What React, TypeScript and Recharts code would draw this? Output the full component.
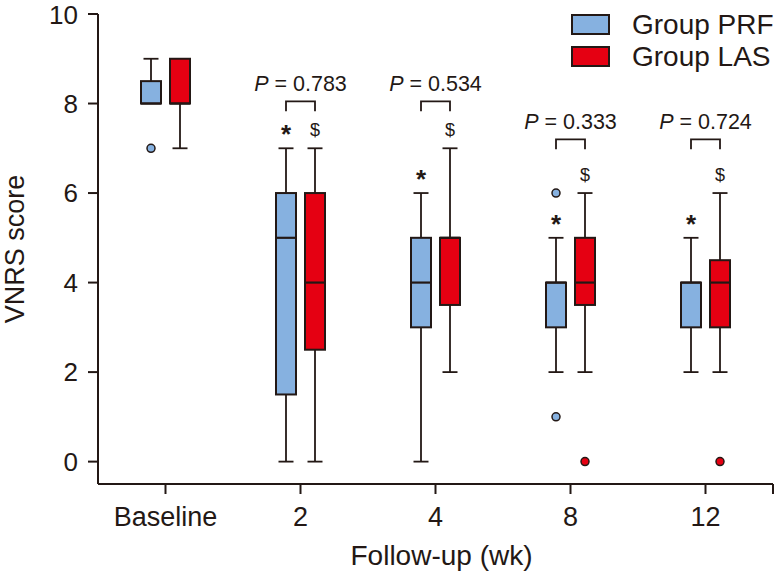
import React from 'react';
import { ComposedChart, Bar, XAxis, YAxis, Customized } from 'recharts';

// follow-up weeks
const categories = ['Baseline', '2', '4', '8', '12'];

// Group PRF box stats
const prfMin = [8, 0, 0, 2, 2];
const prfQ1 = [8, 1.5, 3, 3, 3];
const prfMed = [8, 5, 4, 4, 4];
const prfQ3 = [8.5, 6, 5, 4, 4];
const prfMax = [9, 7, 6, 5, 5];
const prfOut = [[7], [], [], [6, 1], []];
const prfMark = ['', '*', '*', '*', '*'];

// Group LAS box stats
const lasMin = [7, 0, 2, 2, 2];
const lasQ1 = [8, 2.5, 3.5, 3.5, 3];
const lasMed = [8, 4, 5, 4, 4];
const lasQ3 = [9, 6, 5, 5, 4.5];
const lasMax = [9, 7, 7, 6, 6];
const lasOut = [[], [], [], [0], [0]];
const lasMark = ['', '$', '$', '$', '$'];

// between-group comparison
const pValues = ['', '0.783', '0.534', '0.333', '0.724'];
const pLevel = [null, 8.05, 8.05, 7.2, 7.2];

const yTicks = [0, 2, 4, 6, 8, 10];
const seriesNames = ['Group PRF', 'Group LAS'];

const INK = '#231815';
const BLUE = '#86b1e0';
const RED = '#e50012';
const FONT = '"Liberation Sans", Arial, Helvetica, sans-serif';

const W = 775;
const H = 579;
const MARGIN = { top: 14, right: 2, bottom: 0, left: 0 };
const BAR_SIZE = 20;
const BAR_GAP = 9;

const data = categories.map((week, i) => ({
  week,
  prf: { min: prfMin[i], q1: prfQ1[i], med: prfMed[i], q3: prfQ3[i], max: prfMax[i], out: prfOut[i], mark: prfMark[i] },
  las: { min: lasMin[i], q1: lasQ1[i], med: lasMed[i], q3: lasQ3[i], max: lasMax[i], out: lasOut[i], mark: lasMark[i] },
  prfRange: [prfMin[i], prfMax[i]],
  lasRange: [lasMin[i], lasMax[i]],
  p: pValues[i],
  pLevel: pLevel[i],
}));

function boxShape(group: 'prf' | 'las', fill: string) {
  return (props: any) => {
    const { x, y, width, height, payload } = props;
    const s = payload[group];
    const top = Math.min(y, y + height);
    const bottom = Math.max(y, y + height);
    // linear scale inside the [min, max] bar
    const px = (v: number) => bottom - ((v - s.min) / (s.max - s.min)) * (bottom - top);
    const cx = x + width / 2;
    const cap = 7.5;
    const maxY = px(s.max);
    return (
      <g>
        <line x1={cx} x2={cx} y1={px(s.max)} y2={px(s.q3)} stroke={INK} strokeWidth={1.8} />
        <line x1={cx} x2={cx} y1={px(s.q1)} y2={px(s.min)} stroke={INK} strokeWidth={1.8} />
        {s.max > s.q3 && <line x1={cx - cap} x2={cx + cap} y1={px(s.max)} y2={px(s.max)} stroke={INK} strokeWidth={1.8} />}
        {s.min < s.q1 && <line x1={cx - cap} x2={cx + cap} y1={px(s.min)} y2={px(s.min)} stroke={INK} strokeWidth={1.8} />}
        <rect x={x} y={px(s.q3)} width={width} height={px(s.q1) - px(s.q3)} fill={fill} stroke={INK} strokeWidth={2} />
        <line x1={x} x2={x + width} y1={px(s.med)} y2={px(s.med)} stroke={INK} strokeWidth={2.2} />
        {s.out.map((v: number, k: number) => (
          <circle key={k} cx={cx} cy={px(v)} r={4} fill={fill} stroke={INK} strokeWidth={1.5} />
        ))}
        {s.mark === '*' && (
          <text x={cx} y={maxY - 20 + 15} textAnchor="middle" fontSize={26} fontWeight="bold" fill={INK} fontFamily={FONT}>*</text>
        )}
        {s.mark === '$' && (
          <text x={cx} y={maxY - 19 + 6.5} textAnchor="middle" fontSize={18} fill={INK} fontFamily={FONT}>$</text>
        )}
        {group === 'las' && payload.p && (() => {
          const left = cx - (BAR_SIZE + BAR_GAP);
          const by = px(payload.pLevel);
          return (
            <g>
              <path d={`M${left},${by + 10}V${by}H${cx}V${by + 10}`} fill="none" stroke={INK} strokeWidth={1.8} />
              <text x={(left + cx) / 2} y={by - 10} textAnchor="middle" fontSize={21.5} fill={INK} fontFamily={FONT}>
                <tspan fontStyle="italic">P</tspan> = {payload.p}
              </text>
            </g>
          );
        })()}
      </g>
    );
  };
}

const axisEndTick = () => (
  <line x1={W - MARGIN.right} x2={W - MARGIN.right} y1={484} y2={494} stroke={INK} strokeWidth={2} />
);

export default function App() {
  return (
    <div style={{ position: 'absolute', left: 0, top: 0, width: W, height: H, background: '#fff' }}>
      <ComposedChart width={W} height={H} data={data} margin={MARGIN} barSize={BAR_SIZE} barGap={BAR_GAP}>
        <XAxis
          dataKey="week"
          height={95}
          tickSize={10}
          tickMargin={13}
          axisLine={{ stroke: INK, strokeWidth: 2 }}
          tickLine={{ stroke: INK, strokeWidth: 2 }}
          tick={{ fill: INK, fontSize: 27, fontFamily: FONT }}
          label={{ value: 'Follow-up (wk)', position: 'insideBottom', offset: 14, dx: 6, fill: INK, fontSize: 28, fontFamily: FONT }}
        />
        <YAxis
          type="number"
          width={98}
          domain={[-0.5, 10]}
          ticks={yTicks}
          tickSize={10}
          tickMargin={10}
          axisLine={{ stroke: INK, strokeWidth: 2 }}
          tickLine={{ stroke: INK, strokeWidth: 2 }}
          tick={{ fill: INK, fontSize: 26, fontFamily: FONT }}
          label={{
            content: (p: any) => {
              const cy = p.viewBox.y + p.viewBox.height / 2;
              return (
                <text x={24} y={cy} transform={`rotate(-90 24 ${cy})`} textAnchor="middle" fontSize={27} fill={INK} fontFamily={FONT}>
                  VNRS score
                </text>
              );
            },
          }}
        />
        <Bar dataKey="prfRange" name={seriesNames[0]} fill={BLUE} shape={boxShape('prf', BLUE)} isAnimationActive={false} />
        <Bar dataKey="lasRange" name={seriesNames[1]} fill={RED} shape={boxShape('las', RED)} isAnimationActive={false} />
        <Customized component={axisEndTick} />
      </ComposedChart>
      <div style={{ position: 'absolute', left: 571, top: 14, fontFamily: FONT, color: INK }}>
        {seriesNames.map((name, i) => (
          <div key={name} style={{ display: 'flex', alignItems: 'center', height: 21, marginBottom: 11 }}>
            <div style={{ width: 35, height: 17, background: i === 0 ? BLUE : RED, border: `2px solid ${INK}` }} />
            <span style={{ marginLeft: 22, fontSize: 28, lineHeight: '21px', whiteSpace: 'nowrap' }}>{name}</span>
          </div>
        ))}
      </div>
    </div>
  );
}
